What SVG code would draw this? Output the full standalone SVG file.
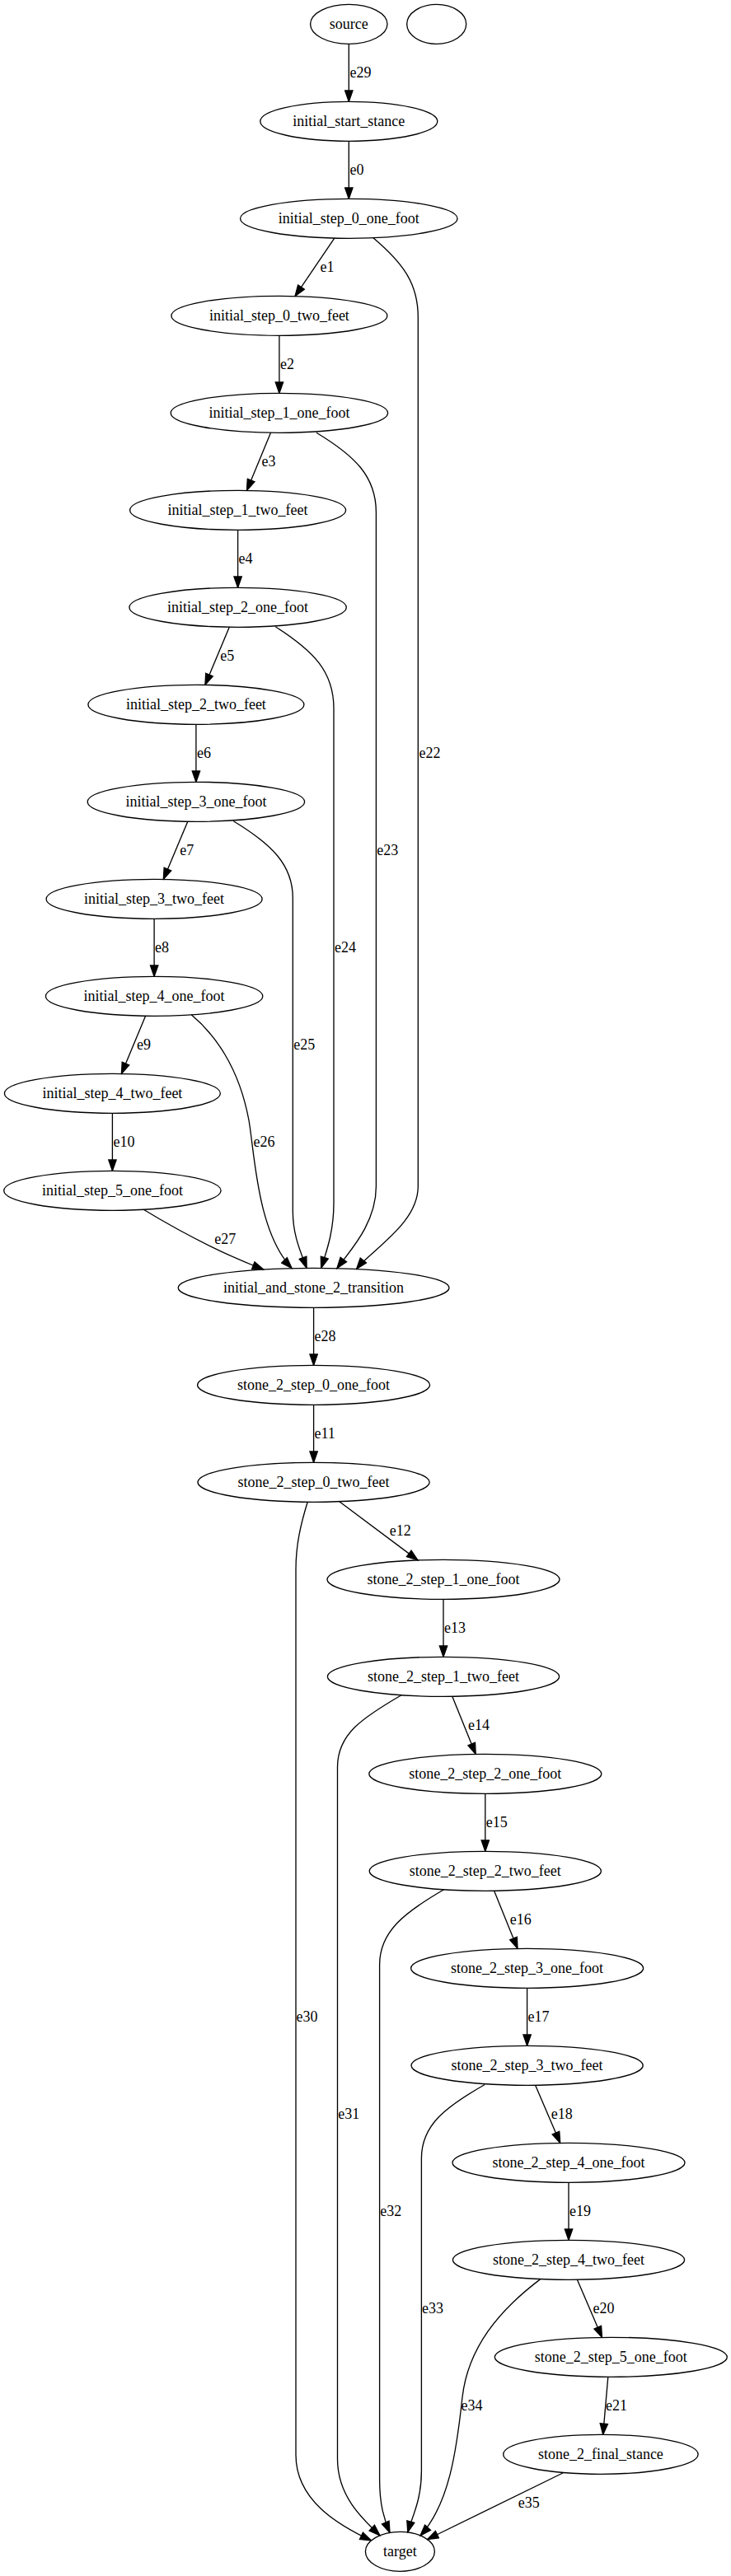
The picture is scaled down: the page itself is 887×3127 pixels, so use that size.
<svg xmlns="http://www.w3.org/2000/svg" width="887" height="3127" viewBox="0 0 887 3127">
<style>
text{font-family:"Liberation Serif","Times New Roman",serif;font-size:18px;fill:#000}
.node ellipse{fill:none;stroke:#000;stroke-width:1.33}
.node text{text-anchor:middle}
#edges path{fill:none;stroke:#000;stroke-width:1.33;marker-end:url(#arr)}
.lbl text{text-anchor:start}
</style>
<defs>
<marker id="arr" markerUnits="userSpaceOnUse" viewBox="-1 -1 15.33 11.33" markerWidth="15.33" markerHeight="11.33" refX="13.33" refY="4.67" orient="auto">
<path d="M0,0 L13.33,4.67 L0,9.33 Z" fill="#000" stroke="#000" stroke-width="1.33"/>
</marker>
</defs>
<rect x="0" y="0" width="887" height="3127" fill="#fff"/>
<g id="edges">
<path id="e29" d="M423.3,53.3 L423.3,123.3"/>
<path id="e0" d="M423.3,171.3 L423.3,241.3"/>
<path id="e1" d="M405.8,289.1 L358,359.6"/>
<path id="e2" d="M338.9,407.3 L338.9,477.3"/>
<path id="e3" d="M328.5,525.2 L299.5,595.4"/>
<path id="e4" d="M288.6,643.3 L288.6,713.3"/>
<path id="e5" d="M278.3,761.2 L248.9,831.4"/>
<path id="e6" d="M237.9,879.3 L237.9,949.3"/>
<path id="e7" d="M227.8,997.2 L198.3,1067.4"/>
<path id="e8" d="M187.1,1115.3 L187.1,1185.3"/>
<path id="e9" d="M176.6,1233.2 L147.4,1303.4"/>
<path id="e10" d="M136.4,1351.3 L136.4,1421.3"/>
<path id="e22" d="M452.9,288.7 C490,320 507.3,345 507.3,385 L507.3,1440 C507.3,1485 452,1516 432.6,1540.5"/>
<path id="e23" d="M384,525.2 C430,553 456.4,578 456.4,622 L456.4,1440 C456.4,1485 425,1518 408.9,1539.7"/>
<path id="e24" d="M334.2,760.7 C380,790 405,815 405,860 L405,1460 C405,1495 396.5,1518 389.7,1539.3"/>
<path id="e25" d="M283.3,996.7 C330,1025 355.3,1050 355.3,1090 L355.3,1470 C355.3,1500 365,1520 372.1,1539.3"/>
<path id="e26" d="M232.2,1231.8 C260,1255 290,1295 302,1360 C309,1400 312,1495 354.1,1539.6"/>
<path id="e27" d="M174.2,1468.3 C215,1493 270,1522 319.7,1541"/>
<path id="e28" d="M380.6,1587.3 L380.6,1657.3"/>
<path id="e11" d="M380.6,1705.3 L380.6,1775.3"/>
<path id="e12" d="M411.8,1822.7 L506.9,1893.9"/>
<path id="e13" d="M538,1941.3 L538,2011.3"/>
<path id="e14" d="M548.8,2059.2 L577.2,2129.4"/>
<path id="e15" d="M588.8,2177.3 L588.8,2247.3"/>
<path id="e16" d="M599.6,2295.2 L628,2365.4"/>
<path id="e17" d="M639.6,2413.3 L639.6,2483.3"/>
<path id="e18" d="M649.6,2531.2 L679.7,2601.4"/>
<path id="e19" d="M690,2649.3 L690,2719.3"/>
<path id="e20" d="M700.4,2767.2 L730.5,2837.4"/>
<path id="e21" d="M737.8,2885.2 L731.7,2955.4"/>
<path id="e30" d="M373.2,1823.3 C365,1850 359,1875 359,1905 L359,2980 C359,3035 410,3065 450.5,3084"/>
<path id="e31" d="M487,2057.7 C440,2085 409.5,2105 409.5,2145 L409.5,2985 C409.5,3030 440,3058 461,3077.8"/>
<path id="e32" d="M538.6,2293.7 C490,2322 460.6,2345 460.6,2385 L460.6,3010 C460.6,3040 466,3058 473,3074.4"/>
<path id="e33" d="M588.2,2530.5 C540,2558 511.4,2580 511.4,2620 L511.4,3000 C511.4,3035 500,3055 494.8,3073.9"/>
<path id="e34" d="M655.7,2766.6 C605,2805 568,2850 561,2910 C554,2975 545,3040 510,3078"/>
<path id="e35" d="M683.9,3001.5 L518.5,3082.5"/>
<g class="lbl">
<text x="424.5" y="94.3">e29</text>
<text x="424.5" y="212.3">e0</text>
<text x="388.6" y="330.3">e1</text>
<text x="340" y="448.3">e2</text>
<text x="317.6" y="566.3">e3</text>
<text x="289.6" y="684.3">e4</text>
<text x="267.2" y="802.3">e5</text>
<text x="238.9" y="920.3">e6</text>
<text x="218.2" y="1038.3">e7</text>
<text x="188.1" y="1156.3">e8</text>
<text x="166" y="1274.3">e9</text>
<text x="137.4" y="1392.3">e10</text>
<text x="508.4" y="920.3">e22</text>
<text x="457.3" y="1038.3">e23</text>
<text x="406" y="1156.3">e24</text>
<text x="356.3" y="1274.3">e25</text>
<text x="307.4" y="1392.3">e26</text>
<text x="260.3" y="1510.3">e27</text>
<text x="381.5" y="1628.3">e28</text>
<text x="381.5" y="1746.3">e11</text>
<text x="472.8" y="1864.3">e12</text>
<text x="539" y="1982.3">e13</text>
<text x="567.9" y="2100.3">e14</text>
<text x="589.7" y="2218.3">e15</text>
<text x="618.7" y="2336.3">e16</text>
<text x="640.5" y="2454.3">e17</text>
<text x="668.7" y="2572.3">e18</text>
<text x="691" y="2690.3">e19</text>
<text x="719.5" y="2808.3">e20</text>
<text x="735" y="2926.3">e21</text>
<text x="359.5" y="2454.3">e30</text>
<text x="410.3" y="2572.3">e31</text>
<text x="461.3" y="2690.3">e32</text>
<text x="512" y="2808.3">e33</text>
<text x="559.5" y="2926.3">e34</text>
<text x="628.8" y="3044.3">e35</text>
</g>
</g>
<g id="source" class="node"><ellipse cx="423.3" cy="29.3" rx="46.7" ry="24"/><text x="423.3" y="35.3">source</text></g>
<g id="unnamed" class="node"><ellipse cx="529.7" cy="29.3" rx="36" ry="24"/></g>
<g id="initial_start_stance" class="node"><ellipse cx="423.3" cy="147.3" rx="107.5" ry="24"/><text x="423.3" y="153.3">initial_start_stance</text></g>
<g id="initial_step_0_one_foot" class="node"><ellipse cx="423.3" cy="265.3" rx="131.7" ry="24"/><text x="423.3" y="271.3">initial_step_0_one_foot</text></g>
<g id="initial_step_0_two_feet" class="node"><ellipse cx="338.9" cy="383.3" rx="131" ry="24"/><text x="338.9" y="389.3">initial_step_0_two_feet</text></g>
<g id="initial_step_1_one_foot" class="node"><ellipse cx="338.9" cy="501.3" rx="131.7" ry="24"/><text x="338.9" y="507.3">initial_step_1_one_foot</text></g>
<g id="initial_step_1_two_feet" class="node"><ellipse cx="288.6" cy="619.3" rx="131" ry="24"/><text x="288.6" y="625.3">initial_step_1_two_feet</text></g>
<g id="initial_step_2_one_foot" class="node"><ellipse cx="288.6" cy="737.3" rx="131.7" ry="24"/><text x="288.6" y="743.3">initial_step_2_one_foot</text></g>
<g id="initial_step_2_two_feet" class="node"><ellipse cx="237.9" cy="855.3" rx="131" ry="24"/><text x="237.9" y="861.3">initial_step_2_two_feet</text></g>
<g id="initial_step_3_one_foot" class="node"><ellipse cx="237.9" cy="973.3" rx="131.7" ry="24"/><text x="237.9" y="979.3">initial_step_3_one_foot</text></g>
<g id="initial_step_3_two_feet" class="node"><ellipse cx="187.1" cy="1091.3" rx="131" ry="24"/><text x="187.1" y="1097.3">initial_step_3_two_feet</text></g>
<g id="initial_step_4_one_foot" class="node"><ellipse cx="187.1" cy="1209.3" rx="131.7" ry="24"/><text x="187.1" y="1215.3">initial_step_4_one_foot</text></g>
<g id="initial_step_4_two_feet" class="node"><ellipse cx="136.4" cy="1327.3" rx="131" ry="24"/><text x="136.4" y="1333.3">initial_step_4_two_feet</text></g>
<g id="initial_step_5_one_foot" class="node"><ellipse cx="136.4" cy="1445.3" rx="131.7" ry="24"/><text x="136.4" y="1451.3">initial_step_5_one_foot</text></g>
<g id="initial_and_stone_2_transition" class="node"><ellipse cx="380.6" cy="1563.3" rx="164.4" ry="24"/><text x="380.6" y="1569.3">initial_and_stone_2_transition</text></g>
<g id="stone_2_step_0_one_foot" class="node"><ellipse cx="380.6" cy="1681.3" rx="141" ry="24"/><text x="380.6" y="1687.3">stone_2_step_0_one_foot</text></g>
<g id="stone_2_step_0_two_feet" class="node"><ellipse cx="380.6" cy="1799.3" rx="140.6" ry="24"/><text x="380.6" y="1805.3">stone_2_step_0_two_feet</text></g>
<g id="stone_2_step_1_one_foot" class="node"><ellipse cx="538" cy="1917.3" rx="141" ry="24"/><text x="538" y="1923.3">stone_2_step_1_one_foot</text></g>
<g id="stone_2_step_1_two_feet" class="node"><ellipse cx="538" cy="2035.3" rx="140.6" ry="24"/><text x="538" y="2041.3">stone_2_step_1_two_feet</text></g>
<g id="stone_2_step_2_one_foot" class="node"><ellipse cx="588.8" cy="2153.3" rx="141" ry="24"/><text x="588.8" y="2159.3">stone_2_step_2_one_foot</text></g>
<g id="stone_2_step_2_two_feet" class="node"><ellipse cx="588.8" cy="2271.3" rx="140.6" ry="24"/><text x="588.8" y="2277.3">stone_2_step_2_two_feet</text></g>
<g id="stone_2_step_3_one_foot" class="node"><ellipse cx="639.6" cy="2389.3" rx="141" ry="24"/><text x="639.6" y="2395.3">stone_2_step_3_one_foot</text></g>
<g id="stone_2_step_3_two_feet" class="node"><ellipse cx="639.6" cy="2507.3" rx="140.6" ry="24"/><text x="639.6" y="2513.3">stone_2_step_3_two_feet</text></g>
<g id="stone_2_step_4_one_foot" class="node"><ellipse cx="690" cy="2625.3" rx="141" ry="24"/><text x="690" y="2631.3">stone_2_step_4_one_foot</text></g>
<g id="stone_2_step_4_two_feet" class="node"><ellipse cx="690" cy="2743.3" rx="140.6" ry="24"/><text x="690" y="2749.3">stone_2_step_4_two_feet</text></g>
<g id="stone_2_step_5_one_foot" class="node"><ellipse cx="741.3" cy="2861.3" rx="141" ry="24"/><text x="741.3" y="2867.3">stone_2_step_5_one_foot</text></g>
<g id="stone_2_final_stance" class="node"><ellipse cx="728.9" cy="2979.3" rx="118.2" ry="24"/><text x="728.9" y="2985.3">stone_2_final_stance</text></g>
<g id="target" class="node"><ellipse cx="485.4" cy="3097.3" rx="42" ry="24"/><text x="485.4" y="3103.3">target</text></g>
</svg>
